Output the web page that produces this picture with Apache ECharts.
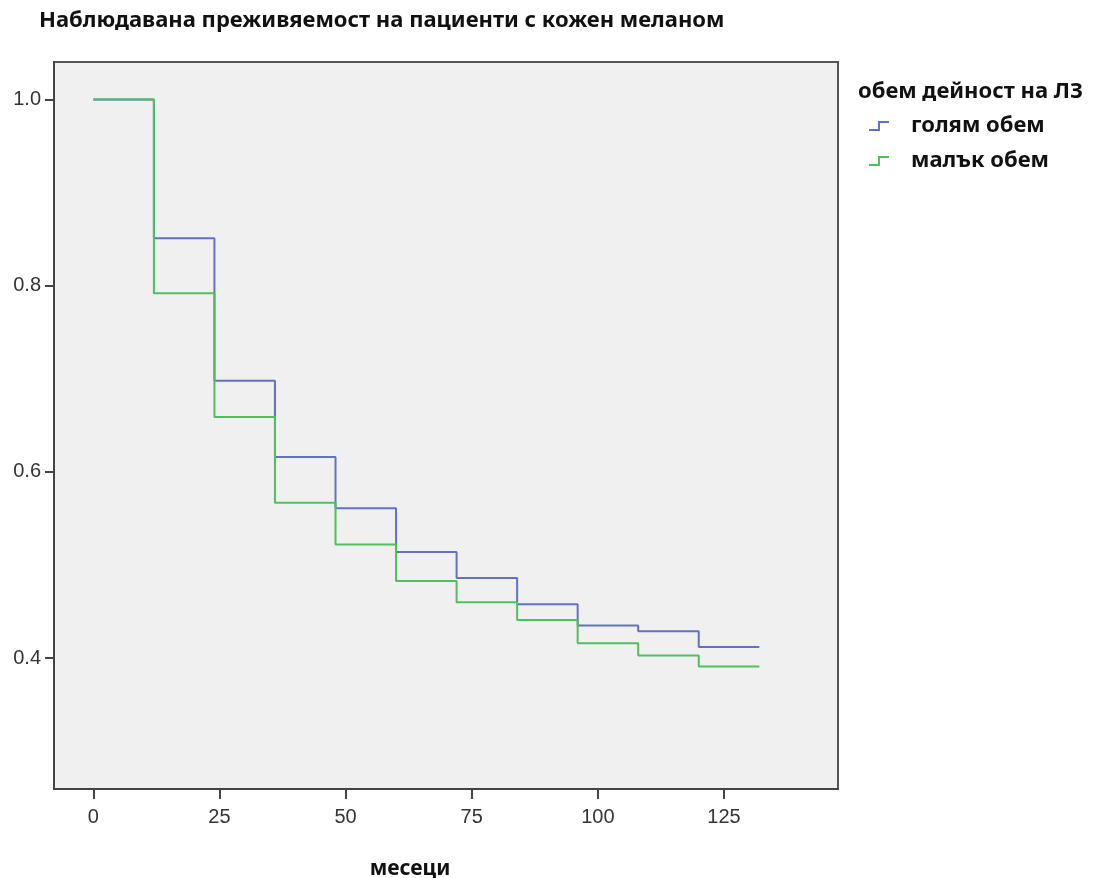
<!DOCTYPE html>
<html>
<head>
<meta charset="utf-8">
<script src="https://cdn.jsdelivr.net/npm/echarts@6/dist/echarts.min.js"></script>
<style>
html,body{margin:0;padding:0;background:#fff;}
#chart{width:1098px;height:878px;}
</style>
</head>
<body>
<div id="chart"></div>
<script>
// ---- data ----
const months = [0, 12, 24, 36, 48, 60, 72, 84, 96, 108, 120, 132];
const largeVolume = [1.0, 0.851, 0.698, 0.616, 0.561, 0.514, 0.486, 0.458, 0.435, 0.429, 0.412, 0.412];
const smallVolume = [1.0, 0.792, 0.659, 0.567, 0.522, 0.483, 0.460, 0.441, 0.416, 0.403, 0.391, 0.391];
const seriesNames = ['голям обем', 'малък обем'];
const xTicks = [0, 25, 50, 75, 100, 125];
const yTicks = [0.4, 0.6, 0.8, 1.0];
const chartTitle = 'Наблюдавана преживяемост на пациенти с кожен меланом';
const legendTitle = 'обем дейност на ЛЗ';
const xAxisName = 'месеци';

const pairs = (xs, ys) => xs.map((x, i) => [x, ys[i]]);
const stepIcon = 'path://M0,8 L9,8 L9,0 L20,0 L20,2 L11,2 L11,10 L0,10 Z';
const textFont = '"Noto Sans", sans-serif';
const tickFont = '"Liberation Sans", Arial, sans-serif';

const chart = echarts.init(document.getElementById('chart'), null, {renderer: 'canvas'});
chart.setOption({
  animation: false,
  backgroundColor: '#ffffff',
  title: [
    {
      text: chartTitle, left: 34, top: 5,
      textStyle: {fontFamily: textFont, fontWeight: 'bold', fontSize: 22, color: '#111'}
    },
    {
      text: legendTitle, left: 853, top: 76,
      textStyle: {fontFamily: textFont, fontWeight: 'bold', fontSize: 22, color: '#111'}
    }
  ],
  legend: {
    orient: 'vertical', left: 864, top: 110,
    itemWidth: 34, itemHeight: 10, itemGap: 13,
    icon: stepIcon,
    data: seriesNames,
    textStyle: {fontFamily: textFont, fontWeight: 'bold', fontSize: 22, color: '#111', padding: [0, 0, 0, 10]}
  },
  grid: {left: 54, right: 260, top: 62, bottom: 89, show: true, backgroundColor: '#f0f0f0', borderColor: '#555', borderWidth: 2,
    containLabel: false, outerBoundsMode: 'none'},
  xAxis: {
    type: 'value', min: -7.8, max: 147.6,
    name: xAxisName, nameLocation: 'middle', nameGap: 70,
    nameTextStyle: {fontFamily: textFont, fontWeight: 'bold', fontSize: 21, color: '#111', padding: [0, 72, 0, 0]},
    axisLine: {show: true, onZero: false, lineStyle: {color: '#444', width: 2}},
    axisTick: {show: true, customValues: xTicks, length: 10, lineStyle: {color: '#444', width: 2}},
    axisLabel: {customValues: xTicks, margin: 18, fontFamily: tickFont, fontSize: 20, color: '#333'},
    splitLine: {show: false}
  },
  yAxis: {
    type: 'value', min: 0.2595, max: 1.0403,
    axisLine: {show: true, onZero: false, lineStyle: {color: '#444', width: 2}},
    axisTick: {show: true, customValues: yTicks, length: 9, lineStyle: {color: '#444', width: 2}},
    axisLabel: {customValues: yTicks, margin: 13, fontFamily: tickFont, fontSize: 20, color: '#333',
      formatter: v => v.toFixed(1)},
    splitLine: {show: false}
  },
  series: [
    {
      name: seriesNames[0], type: 'line', step: 'end', showSymbol: false,
      data: pairs(months, largeVolume),
      lineStyle: {color: '#6272bf', width: 2}, itemStyle: {color: '#6272bf'}
    },
    {
      name: seriesNames[1], type: 'line', step: 'end', showSymbol: false,
      data: pairs(months, smallVolume),
      lineStyle: {color: '#4fc05c', width: 2}, itemStyle: {color: '#4fc05c'}
    }
  ]
});
</script>
</body>
</html>
